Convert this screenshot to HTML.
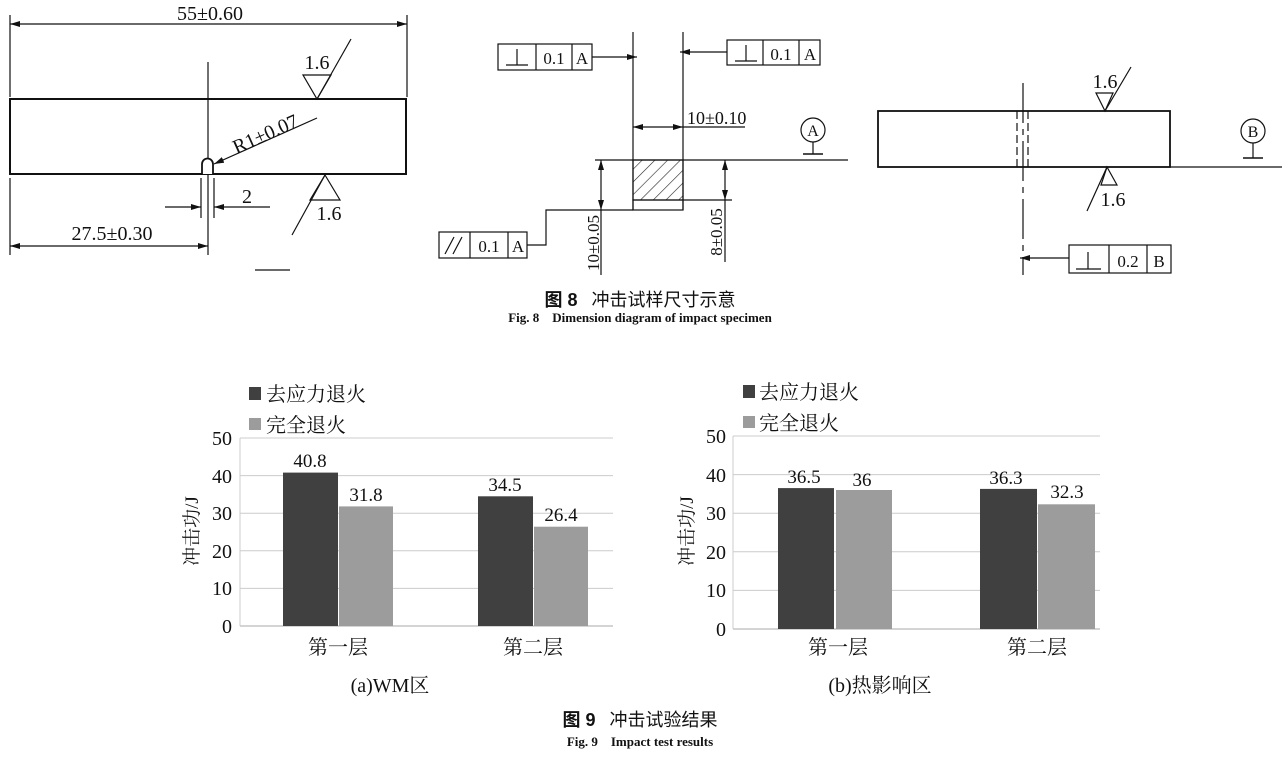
<!DOCTYPE html><html><head><meta charset="utf-8"><style>
body{margin:0;background:#fff;width:1286px;height:769px;overflow:hidden}
svg text{font-family:"Liberation Serif","Noto Serif CJK SC",serif;fill:#111}
.c{font-family:"Liberation Sans","Noto Sans CJK SC",sans-serif}
</style></head><body>
<svg width="1286" height="769" viewBox="0 0 1286 769" xmlns="http://www.w3.org/2000/svg">
<defs>
<marker id="ar" viewBox="0 0 10 6" refX="10" refY="3" markerWidth="10" markerHeight="6" orient="auto-start-reverse" markerUnits="userSpaceOnUse"><path d="M0,0L10,3L0,6z" fill="#111"/></marker>
<pattern id="h" width="9" height="9" patternUnits="userSpaceOnUse" patternTransform="rotate(45)"><line x1="0" y1="0" x2="0" y2="9" stroke="#222" stroke-width="1.2"/></pattern>
</defs>
<g stroke="#111" fill="none" stroke-width="1.2">
<line x1="10" y1="15" x2="10" y2="97"/><line x1="407" y1="15" x2="407" y2="97"/>
<line x1="10" y1="24" x2="407" y2="24" marker-start="url(#ar)" marker-end="url(#ar)"/>
<rect x="10" y="99" width="396" height="75" stroke-width="2"/>
<line x1="208" y1="62" x2="208" y2="255"/>
<path d="M202,174V164a5.5,5.5 0 0 1 11,0V174" fill="#fff" stroke-width="1.8"/>
<path d="M303,75H331L317,99z"/><line x1="317" y1="99" x2="351" y2="39"/>
<line x1="317" y1="118" x2="214" y2="164" marker-end="url(#ar)"/>
<path d="M325,175L340,200H310z"/><line x1="325" y1="175" x2="292" y2="235"/>
<line x1="201" y1="178" x2="201" y2="218"/><line x1="214" y1="178" x2="214" y2="218"/>
<line x1="165" y1="207" x2="201" y2="207" marker-end="url(#ar)"/><line x1="270" y1="207" x2="214" y2="207" marker-end="url(#ar)"/>
<line x1="10" y1="178" x2="10" y2="255"/>
<line x1="10" y1="246" x2="208" y2="246" marker-start="url(#ar)" marker-end="url(#ar)"/>
<line x1="255" y1="270" x2="290" y2="270"/>
<line x1="633" y1="32" x2="633" y2="210"/><line x1="683" y1="32" x2="683" y2="210"/>
<rect x="498" y="44" width="94" height="26"/><line x1="536" y1="44" x2="536" y2="70"/><line x1="572" y1="44" x2="572" y2="70"/>
<line x1="592" y1="57" x2="637" y2="57" marker-end="url(#ar)"/>
<line x1="506" y1="65" x2="528" y2="65"/><line x1="517" y1="49" x2="517" y2="65"/>
<rect x="727" y="40" width="93" height="25"/><line x1="763" y1="40" x2="763" y2="65"/><line x1="799" y1="40" x2="799" y2="65"/>
<line x1="735" y1="61" x2="757" y2="61"/><line x1="746" y1="45" x2="746" y2="61"/>
<line x1="727" y1="52" x2="680" y2="52" marker-end="url(#ar)"/>
<line x1="633" y1="127" x2="683" y2="127" marker-start="url(#ar)" marker-end="url(#ar)"/>
<line x1="683" y1="127" x2="745" y2="127"/>
<circle cx="813" cy="130" r="12"/><line x1="813" y1="142" x2="813" y2="154"/><line x1="803" y1="154" x2="823" y2="154" stroke-width="1.6"/>
<line x1="595" y1="160" x2="848" y2="160"/>
<rect x="633" y="160" width="50" height="40" fill="url(#h)"/><rect x="633" y="200" width="50" height="10"/>
<line x1="683" y1="200" x2="732" y2="200"/>
<line x1="601" y1="160" x2="601" y2="210" marker-start="url(#ar)" marker-end="url(#ar)"/><line x1="601" y1="210" x2="601" y2="275"/>
<line x1="725" y1="160" x2="725" y2="200" marker-start="url(#ar)" marker-end="url(#ar)"/><line x1="725" y1="200" x2="725" y2="262"/>
<rect x="439" y="232" width="88" height="26"/><line x1="470" y1="232" x2="470" y2="258"/><line x1="508" y1="232" x2="508" y2="258"/>
<line x1="445" y1="254" x2="454" y2="237"/><line x1="453" y1="254" x2="462" y2="237"/>
<polyline points="527,245 546,245 546,210 633,210"/>
<rect x="878" y="111" width="292" height="56" stroke-width="1.8"/>
<line x1="1023" y1="83" x2="1023" y2="275" stroke-dasharray="40,6,6,6"/>
<line x1="1017" y1="111" x2="1017" y2="167" stroke-dasharray="8,4"/><line x1="1028" y1="111" x2="1028" y2="167" stroke-dasharray="8,4"/>
<path d="M1096,93H1113L1105,111z"/><line x1="1105" y1="111" x2="1131" y2="67"/>
<path d="M1107,167L1117,185H1101z"/><line x1="1107" y1="167" x2="1087" y2="211"/>
<circle cx="1253" cy="131" r="12"/><line x1="1253" y1="143" x2="1253" y2="158"/><line x1="1243" y1="158" x2="1263" y2="158" stroke-width="1.6"/>
<line x1="1170" y1="167" x2="1282" y2="167"/>
<rect x="1069" y="245" width="102" height="28"/><line x1="1109" y1="245" x2="1109" y2="273"/><line x1="1147" y1="245" x2="1147" y2="273"/>
<line x1="1076" y1="269" x2="1101" y2="269"/><line x1="1088" y1="252" x2="1088" y2="269"/>
<line x1="1069" y1="258" x2="1020" y2="258" marker-end="url(#ar)"/>
</g>
<g font-size="20">
<text x="210" y="20" text-anchor="middle">55±0.60</text>
<text x="317" y="69" text-anchor="middle">1.6</text>
<text x="268" y="140" text-anchor="middle" transform="rotate(-24 268 140)">R1±0.07</text>
<text x="329" y="220" text-anchor="middle">1.6</text>
<text x="247" y="203" text-anchor="middle">2</text>
<text x="112" y="240" text-anchor="middle">27.5±0.30</text>
<text x="554" y="64" text-anchor="middle" font-size="17">0.1</text><text x="582" y="64" text-anchor="middle" font-size="17">A</text>
<text x="781" y="60" text-anchor="middle" font-size="17">0.1</text><text x="810" y="60" text-anchor="middle" font-size="17">A</text>
<text x="687" y="124" font-size="18">10±0.10</text>
<text x="813" y="136" text-anchor="middle" font-size="16">A</text>
<text x="489" y="252" text-anchor="middle" font-size="17">0.1</text><text x="518" y="252" text-anchor="middle" font-size="17">A</text>
<text x="0" y="0" font-size="17" text-anchor="middle" transform="translate(599,243) rotate(-90)">10±0.05</text>
<text x="0" y="0" font-size="17" text-anchor="middle" transform="translate(722,232) rotate(-90)">8±0.05</text>
<text x="1105" y="88" text-anchor="middle">1.6</text>
<text x="1113" y="206" text-anchor="middle">1.6</text>
<text x="1253" y="137" text-anchor="middle" font-size="16">B</text>
<text x="1128" y="267" text-anchor="middle" font-size="17">0.2</text><text x="1159" y="267" text-anchor="middle" font-size="17">B</text>
</g>
<text x="640" y="306" text-anchor="middle" font-size="18" class="c" font-weight="bold">图 8<tspan dx="14" font-weight="normal">冲击试样尺寸示意</tspan></text>
<text x="640" y="322" text-anchor="middle" font-size="13" font-weight="bold">Fig. 8　Dimension diagram of impact specimen</text>
<g stroke="#ccc" stroke-width="1">
<line x1="240" y1="438" x2="613" y2="438"/><line x1="240" y1="475.6" x2="613" y2="475.6"/><line x1="240" y1="513.2" x2="613" y2="513.2"/><line x1="240" y1="550.8" x2="613" y2="550.8"/><line x1="240" y1="588.4" x2="613" y2="588.4"/><line x1="240" y1="626" x2="613" y2="626" stroke="#aaa"/>
<line x1="240" y1="438" x2="240" y2="626"/>
<line x1="733" y1="436" x2="1100" y2="436"/><line x1="733" y1="474.6" x2="1100" y2="474.6"/><line x1="733" y1="513.2" x2="1100" y2="513.2"/><line x1="733" y1="551.8" x2="1100" y2="551.8"/><line x1="733" y1="590.4" x2="1100" y2="590.4"/><line x1="733" y1="629" x2="1100" y2="629" stroke="#aaa"/>
<line x1="733" y1="436" x2="733" y2="629"/>
</g>
<g>
<rect x="283" y="472.6" width="55" height="153.4" fill="#404040"/><rect x="339" y="506.4" width="54" height="119.6" fill="#9c9c9c"/>
<rect x="478" y="496.3" width="55" height="129.7" fill="#404040"/><rect x="534" y="526.7" width="54" height="99.3" fill="#9c9c9c"/>
<rect x="778" y="488.1" width="56" height="140.9" fill="#404040"/><rect x="836" y="490" width="56" height="139" fill="#9c9c9c"/>
<rect x="980" y="488.9" width="57" height="140.1" fill="#404040"/><rect x="1038" y="504.3" width="57" height="124.7" fill="#9c9c9c"/>
<rect x="249" y="387" width="12" height="13" fill="#404040"/><rect x="249" y="418" width="12" height="12" fill="#9c9c9c"/>
<rect x="743" y="385" width="12" height="13" fill="#404040"/><rect x="743" y="416" width="12" height="12" fill="#9c9c9c"/>
</g>
<g font-size="20">
<text x="266" y="401">去应力退火</text><text x="266" y="432">完全退火</text>
<text x="759" y="399">去应力退火</text><text x="759" y="430">完全退火</text>
<g text-anchor="end"><text x="232" y="445">50</text><text x="232" y="483">40</text><text x="232" y="520">30</text><text x="232" y="558">20</text><text x="232" y="595">10</text><text x="232" y="633">0</text>
<text x="726" y="443">50</text><text x="726" y="482">40</text><text x="726" y="520">30</text><text x="726" y="559">20</text><text x="726" y="597">10</text><text x="726" y="636">0</text></g>
<g text-anchor="middle" font-size="19"><text x="310" y="467">40.8</text><text x="366" y="501">31.8</text><text x="505" y="491">34.5</text><text x="561" y="521">26.4</text>
<text x="804" y="483">36.5</text><text x="862" y="486">36</text><text x="1006" y="484">36.3</text><text x="1067" y="498">32.3</text></g>
<text x="0" y="0" text-anchor="middle" font-size="19" transform="translate(198,531) rotate(-90)">冲击功/J</text>
<text x="0" y="0" text-anchor="middle" font-size="19" transform="translate(693,531) rotate(-90)">冲击功/J</text>
<g text-anchor="middle"><text x="338" y="654">第一层</text><text x="533" y="654">第二层</text><text x="838" y="654">第一层</text><text x="1037" y="654">第二层</text>
<text x="390" y="692">(a)WM区</text><text x="880" y="692">(b)热影响区</text></g>
</g>
<text x="640" y="726" text-anchor="middle" font-size="18" class="c" font-weight="bold">图 9<tspan dx="14" font-weight="normal">冲击试验结果</tspan></text>
<text x="640" y="746" text-anchor="middle" font-size="13" font-weight="bold">Fig. 9　Impact test results</text>
</svg>
</body></html>
